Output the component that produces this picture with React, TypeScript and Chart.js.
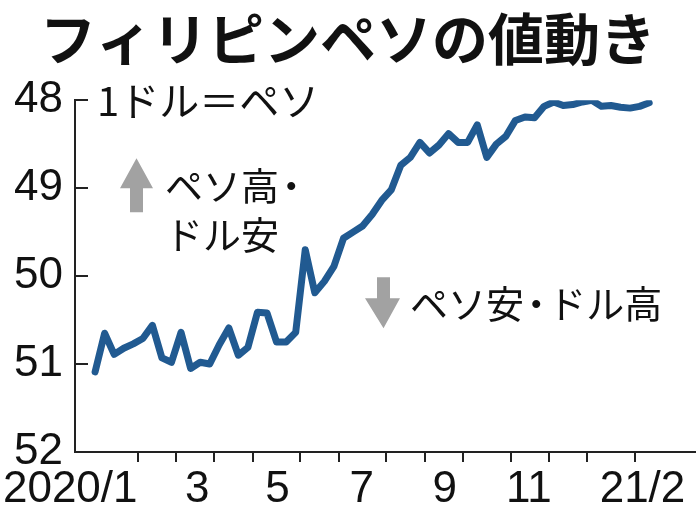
import React, { useEffect, useRef } from 'react';
import { Chart, registerables } from 'chart.js';

Chart.register(...registerables);

const TITLE = 'フィリピンペソの値動き';
const UNIT_LABEL = '1ドル＝ペソ';
const UP_LABEL_1 = 'ペソ高・';
const UP_LABEL_2 = 'ドル安';
const DOWN_LABEL = 'ペソ安・ドル高';

// weekly observations, Jan 2020 – Feb 2021 (week number)
const weeks = [
  0, 1, 2, 3, 4, 5, 6, 7, 8, 9,
  10, 11, 12, 13, 14, 15, 16, 17, 18, 19,
  20, 21, 22, 23, 24, 25, 26, 27, 28, 29,
  30, 31, 32, 33, 34, 35, 36, 37, 38, 39,
  40, 41, 42, 43, 44, 45, 46, 47, 48, 49,
  50, 51, 52, 53, 54, 55, 56, 57, 58,
];

// pesos per US dollar
const pesoPerDollar = [
  51.09, 50.65, 50.89, 50.82, 50.77, 50.71, 50.56, 50.93, 50.98, 50.64,
  51.05, 50.98, 51.0, 50.78, 50.59, 50.9, 50.81, 50.41, 50.42, 50.75,
  50.75, 50.64, 49.7, 50.19, 50.06, 49.89, 49.57, 49.5, 49.43, 49.3,
  49.14, 49.02, 48.74, 48.65, 48.48, 48.6, 48.51, 48.38, 48.48, 48.48,
  48.28, 48.65, 48.5, 48.41, 48.23, 48.19, 48.2, 48.07, 48.02, 48.06,
  48.05, 48.02, 48.0, 48.07, 48.06, 48.08, 48.09, 48.07, 48.03,
];

const yTicks = [48, 49, 50, 51, 52];

// month boundaries (in weeks) – Feb 2020 … Feb 2021
const monthStarts = [4.5, 8.5, 12.5, 16.5, 21.5, 25.5, 30.5, 34.5, 38.5, 43.5, 47.5, 51.5, 56.5];
const monthLabels = ['2020/1', '3', '5', '7', '9', '11', '21/2'];
const monthLabelAt = [-2.6, 10.7, 19.1, 27.9, 36.6, 45.4, 57.3];

const NUM_FONT = "'Liberation Sans Narrow', 'Liberation Sans', Arial, sans-serif";
const JP_FONT = "'Noto Sans CJK JP', 'Noto Sans', sans-serif";

// draws text whose middle dots take a narrower advance, as in the original typesetting
function drawJp(ctx: CanvasRenderingContext2D, text: string, x: number, y: number, size: number) {
  const parts = text.split('・');
  let cx = x;
  parts.forEach((p, i) => {
    ctx.fillText(p, cx, y);
    cx += ctx.measureText(p).width;
    if (i < parts.length - 1) {
      ctx.fillText('・', cx - size * 0.18, y);
      cx += size * 0.64;
    }
  });
}

const annotationPlugin = {
  id: 'annotations',
  afterDraw(chart: any) {
    const { ctx, chartArea } = chart;
    const L = chartArea.left;
    const T = chartArea.top;
    ctx.save();
    ctx.fillStyle = '#111';
    ctx.textBaseline = 'middle';
    ctx.textAlign = 'left';
    ctx.font = `40px ${JP_FONT}`;
    ctx.fillText(UNIT_LABEL, L + 22, T + 1);
    ctx.font = `38px ${JP_FONT}`;
    drawJp(ctx, UP_LABEL_1, L + 90, T + 85, 38);
    drawJp(ctx, UP_LABEL_2, L + 90, T + 134, 38);
    drawJp(ctx, DOWN_LABEL, L + 335, T + 203, 38);

    // up arrow
    ctx.fillStyle = '#a2a2a2';
    ctx.beginPath();
    ctx.moveTo(L + 61.5, T + 58);
    ctx.lineTo(L + 78, T + 88);
    ctx.lineTo(L + 68, T + 88);
    ctx.lineTo(L + 68, T + 112);
    ctx.lineTo(L + 55, T + 112);
    ctx.lineTo(L + 55, T + 88);
    ctx.lineTo(L + 45, T + 88);
    ctx.closePath();
    ctx.fill();

    // down arrow
    ctx.beginPath();
    ctx.moveTo(L + 302, T + 177);
    ctx.lineTo(L + 315, T + 177);
    ctx.lineTo(L + 315, T + 198);
    ctx.lineTo(L + 325, T + 198);
    ctx.lineTo(L + 308.5, T + 228);
    ctx.lineTo(L + 290, T + 198);
    ctx.lineTo(L + 302, T + 198);
    ctx.closePath();
    ctx.fill();
    ctx.restore();
  },
};

export default function App() {
  const canvasRef = useRef<HTMLCanvasElement | null>(null);

  useEffect(() => {
    document.body.style.margin = '0';
    const canvas = canvasRef.current;
    if (!canvas) return;
    const chart = new Chart(canvas, {
      type: 'line',
      data: {
        datasets: [
          {
            data: weeks.map((w, i) => ({ x: w, y: pesoPerDollar[i] })),
            borderColor: '#215a91',
            borderWidth: 7,
            borderJoinStyle: 'round',
            borderCapStyle: 'round',
            pointRadius: 0,
            tension: 0,
            fill: false,
          },
        ],
      },
      options: {
        responsive: false,
        animation: false,
        devicePixelRatio: 1,
        layout: { padding: 0 },
        plugins: {
          legend: { display: false },
          tooltip: { enabled: false },
          title: {
            display: true,
            text: TITLE,
            color: '#111',
            font: { family: JP_FONT, size: 56, weight: 'bold' },
            padding: { top: 5, bottom: 28 },
          },
        },
        scales: {
          x: {
            type: 'linear',
            min: -2.1,
            max: 62.9,
            afterBuildTicks: (scale: any) => {
              scale.ticks = [...monthStarts, ...monthLabelAt]
                .sort((a, b) => a - b)
                .map((v) => ({ value: v }));
            },
            ticks: {
              autoSkip: false,
              maxRotation: 0,
              minRotation: 0,
              padding: 1,
              color: '#111',
              font: { family: NUM_FONT, size: 44 },
              callback: (v: any) => {
                const k = monthLabelAt.indexOf(v);
                return k >= 0 ? monthLabels[k] : '';
              },
            },
            grid: {
              drawOnChartArea: false,
              drawTicks: true,
              tickLength: 10,
              lineWidth: 2,
              tickColor: (c: any) =>
                c.tick && monthStarts.includes(c.tick.value) ? '#222' : 'rgba(0,0,0,0)',
            },
            border: { display: true, color: '#222', width: 2 },
            afterFit: (s: any) => {
              s.height = 70;
            },
          },
          y: {
            type: 'linear',
            reverse: true,
            min: 48,
            max: 52,
            afterBuildTicks: (scale: any) => {
              scale.ticks = yTicks.map((v) => ({ value: v }));
            },
            ticks: {
              padding: 25,
              color: '#111',
              font: { family: NUM_FONT, size: 44 },
              callback: (v: any) => String(v),
            },
            grid: {
              drawOnChartArea: false,
              drawTicks: true,
              tickLength: -13,
              lineWidth: 2,
              color: '#222',
            },
            border: { display: true, color: '#222', width: 2 },
            afterFit: (s: any) => {
              s.width = 75;
            },
          },
        },
      } as any,
      plugins: [annotationPlugin],
    });
    return () => chart.destroy();
  }, []);

  return (
    <div style={{ width: 696, height: 522, background: '#fff' }}>
      <canvas ref={canvasRef} width={696} height={522} style={{ display: 'block' }} />
    </div>
  );
}
